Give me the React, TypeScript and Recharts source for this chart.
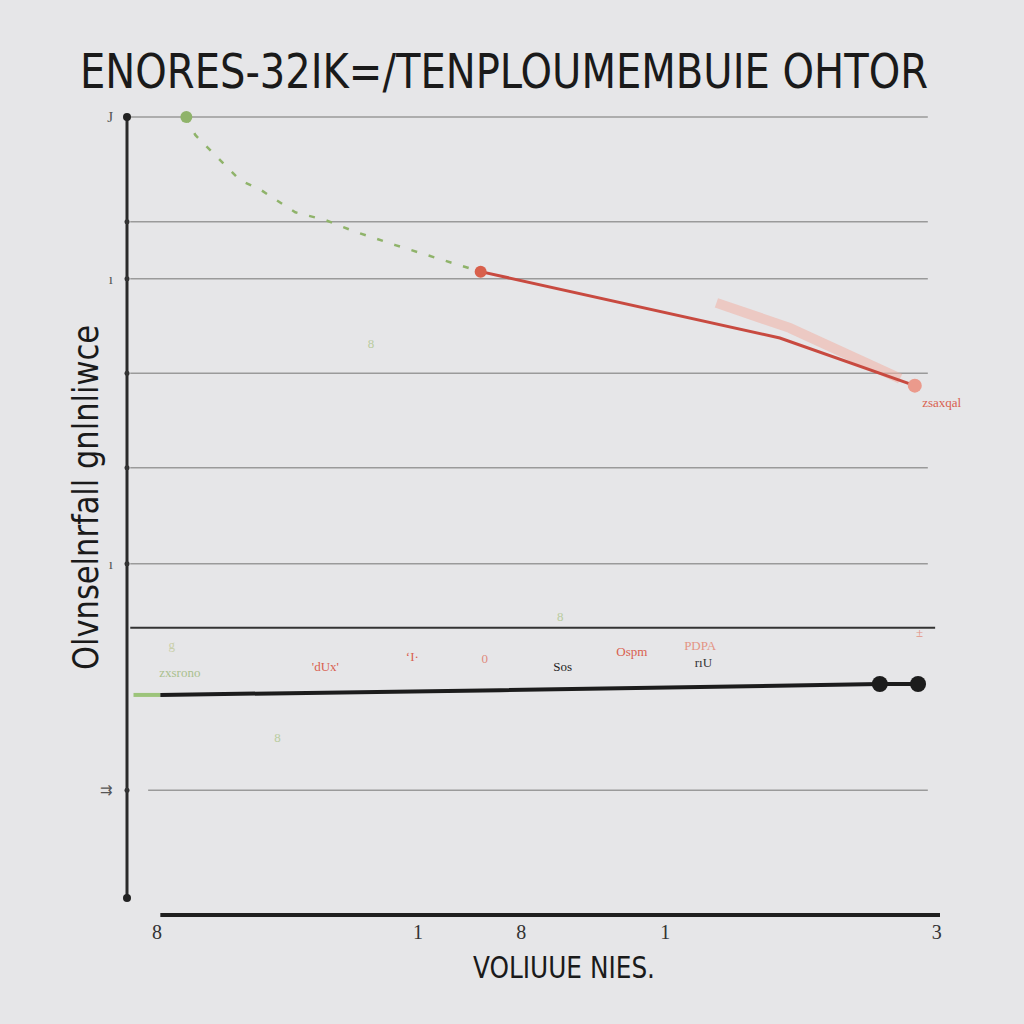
import React from "react";
import {
  LineChart,
  Line,
  XAxis,
  YAxis,
  ReferenceLine,
  ReferenceDot,
} from "recharts";

// ---- data ----
const titleText = "ENORES-32IK=/TENPLOUMEMBUIE OHTOR";
const xTitle = "VOLIUUE NIES.";
const yTitle = "Olvnselnrfall gnlnliwce";

const greenX = [7.3, 8.4, 10.2, 13.9, 16.4, 20.7, 24.4, 28.1, 33.0, 37.9, 42.2, 43.4];
const greenY = [100, 97.7, 95.8, 91.9, 90.7, 87.8, 86.8, 85.3, 83.6, 82.0, 80.6, 80.2];

const redX = [43.5, 80.3, 96.9];
const redY = [80.2, 71.7, 65.6];

const pinkX = [72.5, 81.5, 95.1];
const pinkY = [76.2, 73.0, 66.5];

const blackX = [4.1, 45.9, 92.6, 97.3];
const blackY = [26.0, 26.6, 27.4, 27.4];

const tipX = [0.8, 4.1];
const tipY = [26.0, 26.0];

const gridY = [100, 86.6, 79.3, 67.2, 55.1, 42.8, 13.8];
const darkLineY = 34.6;

const yTicks = [13.8, 42.8, 79.3, 100];
const yTickLabels = ["⇉", "ı", "ı", "J"];

const xTicks = [3.7, 35.8, 48.5, 66.2, 99.6];
const xTickLabels = ["8", "1", "8", "1", "3"];

const annotX = [6.5, 24.4, 35.1, 44.0, 53.6, 62.1, 70.5, 70.9, 100.2, 30.0, 18.5, 53.3, 97.5, 5.5];
const annotY = [28.9, 29.6, 30.9, 30.7, 29.6, 31.6, 32.4, 30.2, 63.4, 71.0, 20.5, 36.0, 34.0, 32.5];
const annotText = ["zxsrono", "'dUx'", "ʻI·", "0", "Sos", "Ospm", "PDPA", "rıU", "zsaxqal", "8", "8", "8", "±", "g"];
const annotColor = ["#a9c08e", "#d9604f", "#d9604f", "#e08a7c", "#222", "#d9604f", "#e49484", "#333", "#d9604f", "#b9cc9f", "#b9cc9f", "#b9cc9f", "#e49484", "#c9cfa9"];

// table built from arrays
const allX = Array.from(new Set([...greenX, ...redX, ...pinkX, ...blackX, ...tipX])).sort((a, b) => a - b);
const table = allX.map((x) => {
  const row: any = { x };
  const gi = greenX.indexOf(x);
  if (gi >= 0) row.green = greenY[gi];
  const ri = redX.indexOf(x);
  if (ri >= 0) row.red = redY[ri];
  const pi = pinkX.indexOf(x);
  if (pi >= 0) row.pink = pinkY[pi];
  const bi = blackX.indexOf(x);
  if (bi >= 0) row.black = blackY[bi];
  const ti = tipX.indexOf(x);
  if (ti >= 0) row.tip = tipY[ti];
  return row;
});

const BG = "#e6e6e8";
const COND = "'DejaVu Sans Condensed', 'Liberation Sans Narrow', 'DejaVu Sans', sans-serif";

const YTick = (props: any) => {
  const { x, y, payload } = props;
  const i = yTicks.indexOf(payload.value);
  return (
    <text x={x - 6} y={y} dy={5} textAnchor="end" fill="#555" fontSize={15} fontFamily="serif">
      {yTickLabels[i] ?? ""}
    </text>
  );
};

const XTick = (props: any) => {
  const { x, y, payload } = props;
  const i = xTicks.indexOf(payload.value);
  return (
    <text x={x} y={y} dy={16} textAnchor="middle" fill="#333" fontSize={20} fontFamily="serif">
      {xTickLabels[i] ?? ""}
    </text>
  );
};

export default function App() {
  return (
    <div style={{ position: "absolute", left: 0, top: 0, width: 1024, height: 1024, background: BG }}>
      <LineChart
        width={1024}
        height={1024}
        data={table}
        margin={{ top: 117, right: 84, bottom: 79, left: 67 }}
      >
        <XAxis
          type="number"
          dataKey="x"
          domain={[0, 100]}
          ticks={xTicks}
          tick={<XTick />}
          axisLine={false}
          tickLine={false}
          height={30}
          allowDataOverflow
        />
        <YAxis
          type="number"
          domain={[-2.18, 100]}
          ticks={yTicks}
          tick={<YTick />}
          axisLine={false}
          tickLine={false}
          width={60}
          allowDataOverflow
        />
        {gridY.map((g, i) => (
          <ReferenceLine
            key={"g" + i}
            segment={[{ x: i === gridY.length - 1 ? 2.6 : 0.4, y: g }, { x: 98.5, y: g }]}
            stroke="#9a9a9a"
            strokeWidth={1.5}
            ifOverflow="visible"
          />
        ))}
        <ReferenceLine
          segment={[{ x: 0.4, y: darkLineY }, { x: 99.4, y: darkLineY }]}
          stroke="#333"
          strokeWidth={2}
          ifOverflow="visible"
        />
        <ReferenceLine
          segment={[{ x: 0, y: 0 }, { x: 0, y: 100 }]}
          stroke="#2a2a2a"
          strokeWidth={3}
          ifOverflow="visible"
        />
        <ReferenceLine
          segment={[{ x: 4.1, y: -2.18 }, { x: 100, y: -2.18 }]}
          stroke="#1f1f1f"
          strokeWidth={4}
          ifOverflow="visible"
        />
        {[0, 100].map((v) => (
          <ReferenceDot key={"e" + v} x={0} y={v} r={4} fill="#222" stroke="none" ifOverflow="visible" />
        ))}
        {gridY.slice(1).map((g, i) => (
          <ReferenceDot key={"t" + i} x={0} y={g} r={2.5} fill="#333" stroke="none" ifOverflow="visible" />
        ))}
        <Line
          dataKey="pink"
          stroke="#f0b0a4"
          strokeOpacity={0.55}
          strokeWidth={10}
          dot={false}
          connectNulls
          isAnimationActive={false}
        />
        <Line
          dataKey="green"
          stroke="#8fb36a"
          strokeWidth={2.5}
          strokeDasharray="6 12"
          dot={false}
          connectNulls
          isAnimationActive={false}
        />
        <ReferenceDot x={greenX[0]} y={greenY[0]} r={6} fill="#8fb36a" stroke="none" ifOverflow="visible" />
        <Line
          dataKey="red"
          stroke="#c84a40"
          strokeWidth={3}
          dot={false}
          connectNulls
          isAnimationActive={false}
        />
        <ReferenceDot x={redX[0]} y={redY[0]} r={6} fill="#d8604c" stroke="none" ifOverflow="visible" />
        <ReferenceDot x={redX[2]} y={redY[2]} r={7} fill="#eb9a8c" stroke="none" ifOverflow="visible" />
        <Line
          dataKey="tip"
          stroke="#9cc47a"
          strokeWidth={4}
          dot={false}
          connectNulls
          isAnimationActive={false}
        />
        <Line
          dataKey="black"
          stroke="#1c1c1c"
          strokeWidth={4}
          dot={false}
          connectNulls
          isAnimationActive={false}
        />
        <ReferenceDot x={blackX[2]} y={blackY[2]} r={8} fill="#1c1c1c" stroke="none" ifOverflow="visible" />
        <ReferenceDot x={blackX[3]} y={blackY[3]} r={8} fill="#1c1c1c" stroke="none" ifOverflow="visible" />
        {annotX.map((ax, i) => (
          <ReferenceDot
            key={"a" + i}
            x={ax}
            y={annotY[i]}
            r={0}
            fill="none"
            stroke="none"
            ifOverflow="visible"
            label={{
              value: annotText[i],
              position: "center",
              fill: annotColor[i],
              fontSize: 13,
              fontFamily: "serif",
            }}
          />
        ))}
      </LineChart>
      <svg
        width={1024}
        height={1024}
        style={{ position: "absolute", left: 0, top: 0, pointerEvents: "none" }}
      >
        <text
          x={0}
          y={0}
          transform="translate(80,88) scale(1,1.25)"
          fontSize={38}
          fontFamily={COND}
          fill="#1a1a1a"
          textLength={848}
          lengthAdjust="spacingAndGlyphs"
        >
          {titleText}
        </text>
        <text
          x={473}
          y={978}
          fontSize={30}
          fontFamily={COND}
          fill="#1a1a1a"
          textLength={182}
          lengthAdjust="spacingAndGlyphs"
        >
          {xTitle}
        </text>
        <text
          x={0}
          y={0}
          transform="translate(98,670) rotate(-90)"
          fontSize={36}
          fontFamily={COND}
          fill="#1a1a1a"
          textLength={345}
          lengthAdjust="spacingAndGlyphs"
        >
          {yTitle}
        </text>
      </svg>
    </div>
  );
}
